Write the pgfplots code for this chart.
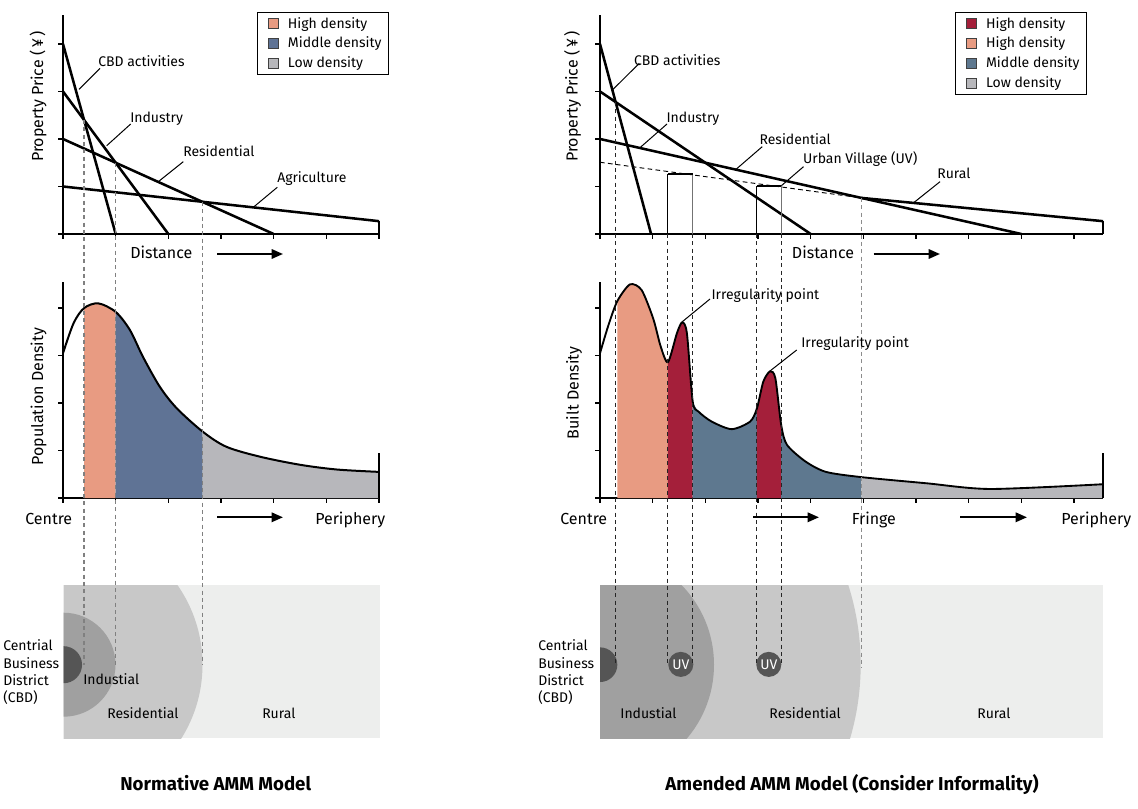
\documentclass[border=0pt]{standalone}
\usepackage{pgfplots}
\pgfplotsset{compat=1.18}
\usetikzlibrary{arrows.meta}
\usepackage{fontspec}
\setmainfont{Fira Sans}
\definecolor{cOr}{HTML}{E89B82}
\definecolor{cBlL}{HTML}{5F7395}
\definecolor{cBlR}{HTML}{5E788F}
\definecolor{cGr}{HTML}{B7B7BB}
\definecolor{cRed}{HTML}{A41F3A}
\definecolor{rCBD}{HTML}{555555}
\definecolor{rInd}{HTML}{A0A0A0}
\definecolor{rRes}{HTML}{C8C8C8}
\definecolor{rRur}{HTML}{EDEEED}
\pgfplotsset{
  amm/.style={scale only axis, axis lines=left, axis line style={-, line width=1.4pt},
    xmin=0, ymin=0, enlargelimits=false, clip=false, xticklabels={}, yticklabels={},
    tick align=outside, major tick length=3.5pt, every tick/.style={black, line width=1pt},
    anchor=south west},
  leg/.style={legend cell align=left,
    legend style={draw=black, line width=0.8pt, fill=white, font=\fontsize{10.5pt}{12pt}\selectfont,
      inner xsep=3pt, inner ysep=1.5pt, row sep=1.2pt, anchor=north west},
    legend image code/.code={\draw[##1, draw=black!75, line width=0.6pt] (4.8pt,-3.75pt) rectangle (12.3pt,3.75pt);
      \path[draw=none, fill=none] (0pt,0pt) rectangle (17.8pt,0.1pt);}},
  seg/.style={draw=none, smooth},
}
\tikzset{
  lab/.style={font=\fontsize{10.5pt}{12pt}\selectfont, inner sep=0pt, anchor=base west},
  big/.style={font=\fontsize{12pt}{14pt}\selectfont, inner sep=0pt, anchor=base west},
  ttl/.style={font=\fontsize{14pt}{16pt}\selectfont\bfseries, inner sep=0pt, anchor=base west},
  lead/.style={line width=0.75pt},
  arr/.style={-{Triangle[length=8.5pt,width=7pt]}, line width=1.6pt},
  dl/.style={line width=0.9pt, dash pattern=on 3pt off 2.5pt},
}
\begin{document}
\begin{tikzpicture}[x=0.75pt, y=0.75pt]
\path[use as bounding box] (0,0) rectangle (1138,808);
\coordinate (LT) at (63,574);
\coordinate (LM) at (63,310);
\coordinate (RT) at (600,574);
\coordinate (RM) at (600,310);
\coordinate (bot) at (0,143);
\coordinate (bot2) at (0,140);

% ---------- ring diagrams ----------
\begin{scope}
  \clip (63.5,70) rectangle (380,223);
  \fill[rRur] (63.5,70) rectangle (380,223);
  \fill[rRes] (63.5,143.3) circle (104.25pt);
  \fill[rInd] (63.5,143.3) circle (39pt);
  \fill[rCBD] (63.5,143.3) circle (13.9pt);
\end{scope}
\begin{scope}
  \clip (600,70) rectangle (1103,223);
  \fill[rRur] (600,70) rectangle (1103,223);
  \fill[rRes] (600,143.3) circle (195.5pt);
  \fill[rInd] (600,143.3) circle (85.5pt);
  \fill[rCBD] (600,143.3) circle (13pt);
\end{scope}
\fill[rCBD] (680.8,143.6) circle (9.4pt);
\fill[rCBD] (768.8,143.6) circle (9.4pt);
\node[white, font=\fontsize{10.5pt}{12pt}\selectfont, inner sep=0pt] at (680.8,143.6) {UV};
\node[white, font=\fontsize{10.5pt}{12pt}\selectfont, inner sep=0pt] at (768.8,143.6) {UV};

% ---------- left top ----------
\begin{axis}[amm, leg, at={(LT)}, width=237pt, height=163.9pt, xmax=6, ymax=4.6,
  xtick={0,...,6}, ytick={0,...,4}, legend style={at={(rel axis cs:0.614,1.016)}}]
\addlegendimage{fill=cOr}
\addlegendimage{fill=cBlL}
\addlegendimage{fill=cGr}
\legend{High density, Middle density, Low density}
\addplot[black, line width=1.9pt] coordinates {(0,4) (1,0)};
\addplot[black, line width=1.9pt] coordinates {(0,3) (2,0)};
\addplot[black, line width=1.9pt] coordinates {(0,2) (4,0)};
\addplot[black, line width=1.9pt] coordinates {(0,1) (6,0.27)};
\draw[line width=1.9pt] (axis cs:6,0) -- (axis cs:6,0.27);
\coordinate (l1) at (axis cs:0.4,2.4);
\coordinate (l2) at (axis cs:1,1.5);
\coordinate (l3) at (axis cs:2.65,0.675);
\end{axis}

% ---------- left middle ----------
\begin{axis}[amm, at={(LM)}, width=237pt, height=162pt, xmax=6, ymax=4.55,
  xtick={0,...,6}, ytick={0,...,4}]
\addplot[seg, fill=cOr] coordinates {(0.4,4.0) (0.67,4.1) (1.0,3.92)} \closedcycle;
\addplot[seg, fill=cBlL] coordinates {(1.0,3.92) (1.27,3.54) (1.52,2.97) (1.84,2.34) (2.16,1.89) (2.65,1.4)} \closedcycle;
\addplot[seg, fill=cGr] coordinates {(2.65,1.4) (3.1,1.08) (3.74,0.87) (4.5,0.7) (5.2,0.6) (6,0.55)} \closedcycle;
\addplot[black, line width=1.5pt, smooth] coordinates {
 (0,3.05) (0.2,3.68) (0.4,4.0) (0.67,4.1) (1.0,3.92) (1.27,3.54) (1.52,2.97)
 (1.84,2.34) (2.16,1.89) (2.65,1.4) (3.1,1.08) (3.74,0.87) (4.5,0.7) (5.2,0.6) (6,0.55)};
\draw[line width=1.5pt] (axis cs:6,0) -- (axis cs:6,0.95);
\end{axis}

% ---------- right top ----------
\begin{axis}[amm, leg, at={(RT)}, width=377.25pt, height=163.9pt, xmax=9.55, ymax=4.6,
  xtick={0,...,9}, ytick={0,...,4}, legend style={at={(rel axis cs:0.706,1.016)}}]
\addlegendimage{fill=cRed}
\addlegendimage{fill=cOr}
\addlegendimage{fill=cBlR}
\addlegendimage{fill=cGr}
\legend{High density, High density, Middle density, Low density}
\addplot[black, line width=1.9pt] coordinates {(0,4) (0.97,0)};
\addplot[black, line width=1.9pt] coordinates {(0,3) (4,0)};
\addplot[black, line width=1.9pt] coordinates {(0,2) (8,0)};
\addplot[black, line width=0.7pt, dash pattern=on 3.5pt off 2.5pt] coordinates {(0,1.51) (4.96,0.76)};
\addplot[black, line width=1.9pt] coordinates {(4.96,0.76) (9.55,0.27)};
\draw[line width=1.9pt] (axis cs:9.55,0) -- (axis cs:9.55,0.27);
\addplot[black, line width=0.7pt] coordinates {(1.29,0) (1.29,1.26)};
\addplot[black!55, line width=0.7pt] coordinates {(1.76,0) (1.76,1.26)};
\addplot[black, line width=1.5pt] coordinates {(1.29,1.26) (1.76,1.26)};
\addplot[black, line width=0.7pt] coordinates {(2.98,0) (2.98,1.0)};
\addplot[black!55, line width=0.7pt] coordinates {(3.44,0) (3.44,1.0)};
\addplot[black, line width=1.5pt] coordinates {(2.98,1.0) (3.44,1.0)};
\coordinate (r1) at (axis cs:0.3,2.78);
\coordinate (r2) at (axis cs:1.29,0);
\coordinate (r3) at (axis cs:1.76,0);
\coordinate (r4) at (axis cs:2.98,0);
\coordinate (r5) at (axis cs:3.44,0);
\coordinate (r6) at (axis cs:4.96,0.76);
\end{axis}

% ---------- right middle ----------
\begin{axis}[amm, at={(RM)}, width=377.25pt, height=162pt, xmax=9.55, ymax=4.55,
  xtick={0,...,9}, ytick={0,...,4}]
\addplot[seg, fill=cOr] coordinates {(0.33,4.15) (0.57,4.5) (0.79,4.38) (1.01,3.78) (1.15,3.2) (1.29,2.86)} \closedcycle;
\addplot[seg, fill=cRed] coordinates {(1.29,2.86) (1.46,3.47) (1.56,3.7) (1.65,3.47) (1.76,2.03)} \closedcycle;
\addplot[seg, fill=cBlR] coordinates {(1.76,2.03) (1.87,1.82) (2.12,1.61) (2.5,1.45) (2.85,1.61) (2.98,1.89)} \closedcycle;
\addplot[seg, fill=cRed] coordinates {(2.98,1.89) (3.1,2.45) (3.23,2.67) (3.33,2.52) (3.44,1.54)} \closedcycle;
\addplot[seg, fill=cBlR] coordinates {(3.44,1.54) (3.55,1.12) (3.9,0.77) (4.29,0.55) (4.96,0.44)} \closedcycle;
\addplot[seg, fill=cGr] coordinates {(4.96,0.44) (6.2,0.31) (7.41,0.19) (9.55,0.29)} \closedcycle;
\addplot[black, line width=1.4pt, smooth, tension=0.45] coordinates {
 (0,3.05) (0.16,3.64) (0.33,4.15) (0.57,4.5) (0.79,4.38) (1.01,3.78) (1.15,3.2)
 (1.29,2.86) (1.46,3.47) (1.56,3.7) (1.65,3.47) (1.76,2.03) (1.87,1.82)
 (2.12,1.61) (2.5,1.45) (2.85,1.61) (2.98,1.89) (3.1,2.45) (3.23,2.67) (3.33,2.52)
 (3.44,1.54) (3.55,1.12) (3.9,0.77) (4.29,0.55) (4.96,0.44) (6.2,0.31) (7.41,0.19) (9.55,0.29)};
\draw[line width=1.4pt] (axis cs:9.55,0) -- (axis cs:9.55,0.95);
\end{axis}

% ---------- dashed guides ----------
\draw[dl, black!50] (l1) -- (l1 |- bot);
\draw[dl, black!50] (l2) -- (l2 |- bot);
\draw[dl, black!50] (l3) -- (l3 |- bot);
\draw[dl, black!85, line width=0.7pt] (r1) -- (r1 |- bot);
\draw[dl, black!85, line width=0.7pt] (r2) -- (r2 |- bot);
\draw[dl, black!85, line width=0.7pt] (r3) -- (r3 |- bot);
\draw[dl, black!85, line width=0.7pt] (r4) -- (r4 |- bot);
\draw[dl, black!85, line width=0.7pt] (r5) -- (r5 |- bot);
\draw[dl, black!45] (r6) -- (r6 |- bot2);

% ---------- left texts ----------
\node[lab] at (98,741) {CBD activities};
\node[lab] at (130,685.3) {Industry};
\node[lab] at (183,651.3) {Residential};
\node[lab] at (277,625) {Agriculture};
\draw[lead] (79,718.7) -- (100,739.7);
\draw[lead] (106.7,662.3) -- (130.7,684);
\draw[lead] (158.3,626.3) -- (183.3,646.3);
\draw[lead] (253.3,600.7) -- (277.3,620.7);
\node[big] at (130,549.7) {Distance};
\draw[arr] (217,554) -- (283,554);
\node[big, rotate=90, anchor=base] at (43,711.3) {Property Price (\,¥\,)};
\node[big, rotate=90, anchor=base] at (43,411.3) {Population Density};
\node[big] at (25,284) {Centre};
\draw[arr] (217,290.7) -- (283,290.7);
\node[big] at (315,284) {Periphery};
\node[lab] at (3,158) {Centrial};
\node[lab] at (3,139.7) {Business};
\node[lab] at (3,123) {District};
\node[lab] at (3,105.3) {(CBD)};
\node[lab] at (83,123.7) {Industial};
\node[lab] at (107,89.7) {Residential};
\node[lab] at (262,89.7) {Rural};
\node[ttl] at (120,18) {Normative AMM Model};

% ---------- right texts ----------
\node[lab] at (633.8,742.3) {CBD activities};
\node[lab] at (666.3,685.7) {Industry};
\node[lab] at (759.3,663.7) {Residential};
\node[lab] at (802.8,644.7) {Urban Village (UV)};
\node[lab] at (937,629.7) {Rural};
\draw[lead] (611.7,717.3) -- (639.3,744.7);
\draw[lead] (640.4,660.7) -- (667,684);
\draw[lead] (736.4,639) -- (762.2,661.3);
\draw[lead] (781.4,622.3) -- (803.5,641.3);
\draw[lead] (914.2,605.7) -- (940,626.3);
\node[big] at (791.7,549.7) {Distance};
\draw[arr] (873.6,554) -- (940,554);
\node[big, rotate=90, anchor=base] at (577.7,711.3) {Property Price (\,¥\,)};
\node[big, rotate=90, anchor=base] at (578.5,415) {Built Density};
\node[lab] at (711.3,508.7) {Irregularity point};
\node[lab] at (801,460.7) {Irregularity point};
\draw[lead] (682.3,486.3) -- (710,509);
\draw[lead] (770,437) -- (796.7,458);
\node[big] at (560,284) {Centre};
\draw[arr] (753,290.7) -- (819,290.7);
\node[big] at (851.5,284) {Fringe};
\draw[arr] (960,290.7) -- (1027,290.7);
\node[big] at (1061,284) {Periphery};
\node[lab] at (538,158) {Centrial};
\node[lab] at (538,139.7) {Business};
\node[lab] at (538,123) {District};
\node[lab] at (538,105.3) {(CBD)};
\node[lab] at (620.1,89.7) {Industial};
\node[lab] at (769.2,89.7) {Residential};
\node[lab] at (977,89.7) {Rural};
\node[ttl] at (665.2,18) {Amended AMM Model (Consider Informality)};
\end{tikzpicture}
\end{document}
